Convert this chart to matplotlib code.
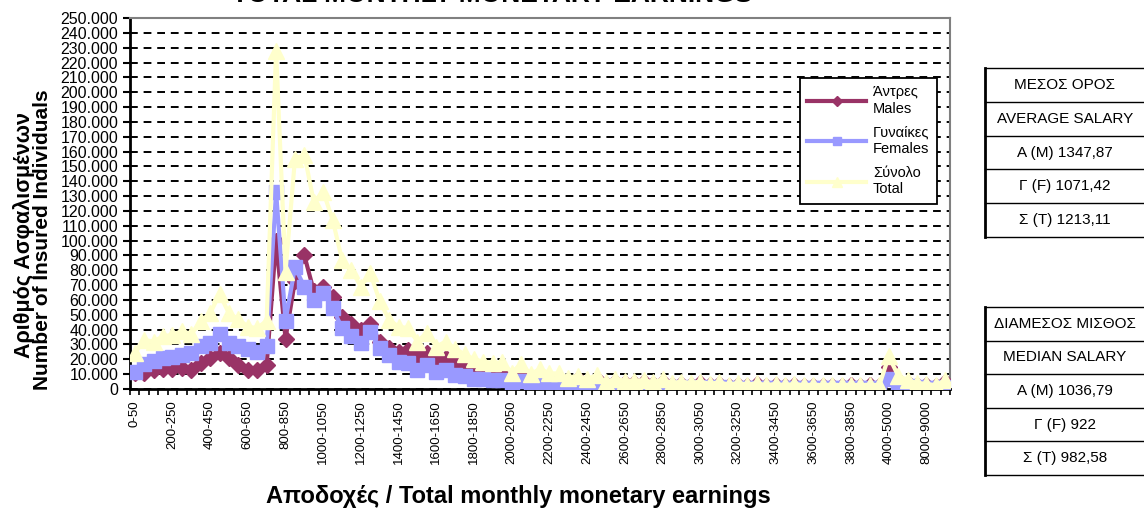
import numpy as np
import matplotlib
matplotlib.use("Agg")
import matplotlib.pyplot as plt
from matplotlib.lines import Line2D
from matplotlib.ticker import FuncFormatter, MultipleLocator

plt.rcParams['font.family'] = ['Liberation Sans', 'DejaVu Sans']

# earnings bands: 50-euro steps up to 4000, then wider bands
bands = [f"{50 * i}-{50 * (i + 1)}" for i in range(80)] + [
    "4000-5000", "5000-6000", "6000-7000", "7000-8000",
    "8000-9000", "9000-10000", ">10000"]

males = [11000, 11000, 13000, 13300, 13800, 14400, 13000, 17800, 21000, 24400,
         21000, 16000, 13000, 13000, 16000, 100000, 34000, 73000, 90000, 66000,
         69000, 62000, 48700, 44000, 40000, 44000, 32000, 27600, 25000, 26600,
         22000, 24000, 19500, 20600, 18400, 15000, 13000, 12000, 11500, 12000,
         7500, 11500, 7000, 9500, 7500, 7500, 5000, 6500, 4500, 7000,
         3300, 5000, 4000, 4000, 4500, 3300, 5000, 3000, 3700, 3000,
         3800, 2600, 3400, 2200, 3000, 2200, 3100, 1800, 2700, 1900,
         2700, 1900, 2300, 2000, 2300, 2000, 2400, 2000, 2400, 2000,
         15000, 6000, 4200, 2800, 2500, 1900, 4500]

females = [11500, 17000, 19000, 20700, 21800, 22700, 24000, 29000, 31000, 37000,
           31000, 29000, 26700, 25000, 29000, 133000, 46000, 82000, 69000, 60000,
           65000, 54600, 41000, 35600, 31000, 38600, 27700, 23000, 18400, 17300,
           12800, 16000, 11700, 12800, 9500, 8500, 7000, 6500, 6000, 6000,
           3500, 5500, 3000, 4000, 3000, 3000, 2500, 2500, 2000, 2500,
           1200, 2000, 1500, 1500, 1500, 1200, 1500, 1000, 1300, 1000,
           1200, 900, 1100, 800, 1000, 800, 900, 700, 800, 600,
           800, 600, 700, 500, 700, 500, 600, 500, 600, 500,
           7000, 3000, 1800, 1200, 1000, 600, 1500]

total = [24000, 33000, 32000, 35500, 36500, 39000, 37000, 45500, 51000, 64000,
         51000, 47000, 42000, 41000, 46000, 228000, 79000, 155000, 158000, 126000,
         133000, 114000, 87000, 80000, 69000, 78000, 59000, 46500, 42000, 41000,
         32000, 38000, 28500, 32000, 27000, 23500, 20000, 18500, 17500, 18000,
         11000, 17000, 10000, 13500, 10500, 10500, 7500, 9000, 6500, 9500,
         4500, 7000, 5500, 5500, 6000, 4500, 6500, 4000, 5000, 4000,
         5000, 3500, 4500, 3000, 4000, 3000, 4000, 2500, 3500, 2500,
         3500, 2500, 3000, 2500, 3000, 2500, 3000, 2500, 3000, 2500,
         22000, 9000, 6000, 4000, 3500, 2500, 6000]

avg_rows = ["ΜΕΣΟΣ ΟΡΟΣ", "AVERAGE SALARY", "Α (Μ) 1347,87", "Γ (F) 1071,42", "Σ (T) 1213,11"]
med_rows = ["ΔΙΑΜΕΣΟΣ ΜΙΣΘΟΣ", "MEDIAN SALARY", "Α (Μ) 1036,79", "Γ (F) 922", "Σ (T) 982,58"]

W, H = 1144, 512
fig = plt.figure(figsize=(W / 100, H / 100), dpi=100)
ax = fig.add_axes([130 / W, 1 - 389 / H, 820 / W, 371 / H])

x = np.arange(len(bands))
ax.plot(x, males, color="#993366", lw=3, marker="D", ms=8, mec="#993366",
        label="Άντρες\nMales", zorder=3)
ax.plot(x, females, color="#9999FF", lw=3, marker="s", ms=10, mec="#9999FF",
        label="Γυναίκες\nFemales", zorder=4)
ax.plot(x, total, color="#FFFFCC", lw=3, marker="^", ms=12, mec="#FFFFCC",
        label="Σύνολο\nTotal", zorder=5)

ax.set_xlim(-0.5, len(bands) - 0.5)
ax.set_ylim(0, 250000)
ax.yaxis.set_major_locator(MultipleLocator(10000))
ax.yaxis.set_major_formatter(FuncFormatter(lambda v, _: f"{int(v):,}".replace(",", ".")))
ax.tick_params(axis="y", labelsize=11.5, length=5, width=1.5, direction="out")

lab_idx = x[::4]
ax.set_xticks(lab_idx)
ax.set_xticklabels([bands[i] for i in lab_idx], rotation=90, fontsize=9.5)
ax.set_xticks(np.arange(-0.5, len(bands), 1), minor=True)
ax.tick_params(axis="x", which="major", length=0, pad=8)
ax.tick_params(axis="x", which="minor", length=4, width=1.2, direction="out")

ax.yaxis.grid(True, color="black", linestyle=(0, (4, 3)), lw=1.4)
ax.set_axisbelow(True)
for s in ("left", "bottom"):
    ax.spines[s].set_color("black")
    ax.spines[s].set_linewidth(2)
for s in ("top", "right"):
    ax.spines[s].set_color("#808080")
    ax.spines[s].set_linewidth(1.5)

leg = ax.legend(loc="upper right", bbox_to_anchor=(0.984, 0.838), fontsize=10.5,
                frameon=True, fancybox=False, edgecolor="black", framealpha=1,
                labelspacing=0.7, handlelength=4.0, markerscale=0.6,
                borderpad=0.5, handletextpad=0.5, borderaxespad=0)
leg.get_frame().set_linewidth(1.3)
leg.set_zorder(10)

fig.text(492 / W, 1 - 2 / H, "TOTAL MONTHLY MONETARY EARNINGS", ha="center",
         va="baseline", fontsize=19, fontweight="bold")
fig.text(24 / W, 1 - 235 / H, "Αριθμός Ασφαλισμένων", rotation=90, ha="center",
         va="center", fontsize=15.5, fontweight="bold")
fig.text(43 / W, 1 - 240 / H, "Number of Insured Individuals", rotation=90,
         ha="center", va="center", fontsize=15, fontweight="bold")
fig.text(518 / W, 1 - 497 / H, "Αποδοχές / Total monthly monetary earnings",
         ha="center", va="center", fontsize=17, fontweight="bold")


def draw_table(rows, top, bottom):
    ys = np.linspace(top, bottom, len(rows) + 1)
    fig.add_artist(Line2D([985 / W, 985 / W], [1 - top / H, 1 - bottom / H],
                          color="black", lw=2))
    for y in ys:
        fig.add_artist(Line2D([985 / W, 1.0], [1 - y / H, 1 - y / H],
                              color="black", lw=1))
    for text, y0, y1 in zip(rows, ys[:-1], ys[1:]):
        fig.text(1065 / W, 1 - (y0 + y1) / 2 / H, text, ha="center",
                 va="center", fontsize=11)


draw_table(avg_rows, 68, 237)
draw_table(med_rows, 307, 475)

fig.savefig("out.png", dpi=100)
